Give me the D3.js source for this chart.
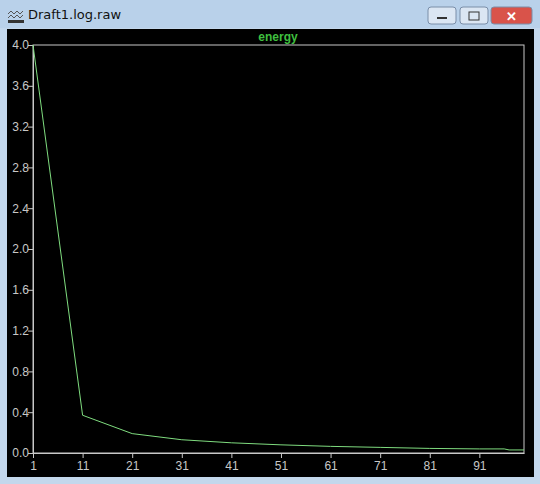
<!DOCTYPE html>
<html><head><meta charset="utf-8">
<script src="https://cdn.jsdelivr.net/npm/d3@7"></script>
<style>
body{margin:0;background:#bcd3ea;font-family:"Liberation Sans",Arial,sans-serif;}
</style></head><body>
<svg id="c" width="540" height="484"></svg>
<script>
const steps = [1, 11, 21, 31, 41, 51, 61, 71, 81, 91, 96, 97, 100];
const energy = [4.0, 0.37, 0.19, 0.13, 0.10, 0.08, 0.065, 0.055, 0.045, 0.04, 0.04, 0.03, 0.03];
const xTicks = [1, 11, 21, 31, 41, 51, 61, 71, 81, 91];
const yTicks = [0, 0.4, 0.8, 1.2, 1.6, 2.0, 2.4, 2.8, 3.2, 3.6, 4.0];

const svg = d3.select("#c");
// window frame
svg.append("rect").attr("width", 540).attr("height", 484).attr("fill", "#c3d7ec");
svg.append("rect").attr("x", 0).attr("y", 0).attr("width", 540).attr("height", 28).attr("fill", "#b9d1ea");
svg.append("text").attr("x", 28).attr("y", 19).attr("font-size", 13).attr("fill", "#111")
  .attr("font-family", "'DejaVu Sans',sans-serif").text("Draft1.log.raw");
const icon = svg.append("g").attr("transform", "translate(8,8)");
icon.append("path").attr("d", "M0 6 L3 3 L6 6 L9 3 L12 6 L15 3 M0 10 L3 7 L6 10 L9 7 L12 10 L15 7")
  .attr("stroke", "#555").attr("fill", "none");
icon.append("rect").attr("x", 0).attr("y", 12).attr("width", 16).attr("height", 3).attr("fill", "#333");
[[428, "#dbe6f3"], [460, "#dbe6f3"], [491, "#d9534a"]].forEach(([x, f], i) => {
  svg.append("rect").attr("x", x).attr("y", 7).attr("width", i == 2 ? 41 : 28).attr("height", 17)
    .attr("rx", 3).attr("fill", f).attr("stroke", "#7a8ea8");
});
svg.append("rect").attr("x", 437).attr("y", 17).attr("width", 10).attr("height", 2).attr("fill", "#333");
svg.append("rect").attr("x", 469).attr("y", 12).attr("width", 10).attr("height", 8).attr("fill", "none").attr("stroke", "#333");
svg.append("text").attr("x", 511).attr("y", 21).attr("text-anchor", "middle").attr("fill", "#fff")
  .attr("font-weight", "bold").attr("font-size", 13).text("✕");

// plot panel
svg.append("rect").attr("x", 7).attr("y", 29).attr("width", 527).attr("height", 448).attr("fill", "#000");

const x = d3.scaleLinear().domain([1, 100]).range([33, 524]);
const y = d3.scaleLinear().domain([0, 4]).range([453, 45]);
const axCol = "#c8c8c8";

svg.append("rect").attr("x", 33).attr("y", 45).attr("width", 491).attr("height", 408)
  .attr("fill", "none").attr("stroke", axCol);

const xa = svg.append("g").attr("transform", "translate(0,453)")
  .call(d3.axisBottom(x).tickValues(xTicks).tickFormat(d3.format("d")).tickSize(5).tickSizeOuter(0));
const ya = svg.append("g").attr("transform", "translate(33,0)")
  .call(d3.axisLeft(y).tickValues(yTicks).tickFormat(d3.format(".1f")).tickSize(5).tickSizeOuter(0));
[xa, ya].forEach(a => {
  a.select(".domain").attr("stroke", axCol);
  a.selectAll("line").attr("stroke", axCol);
  a.selectAll("text").attr("fill", "#c8c8c8").attr("font-size", 12)
    .attr("font-family", "'Liberation Sans',Arial,sans-serif");
});
ya.selectAll("text").attr("x", -4);

svg.append("text").attr("x", 278).attr("y", 41).attr("text-anchor", "middle")
  .attr("fill", "#3fbf3f").attr("font-weight", "bold").attr("font-size", 12).text("energy");

svg.append("path").datum(steps.map((s, i) => [s, energy[i]]))
  .attr("fill", "none").attr("stroke", "#7fdc7f").attr("stroke-width", 1)
  .attr("d", d3.line().x(d => x(d[0])).y(d => y(d[1])));
</script></body></html>
